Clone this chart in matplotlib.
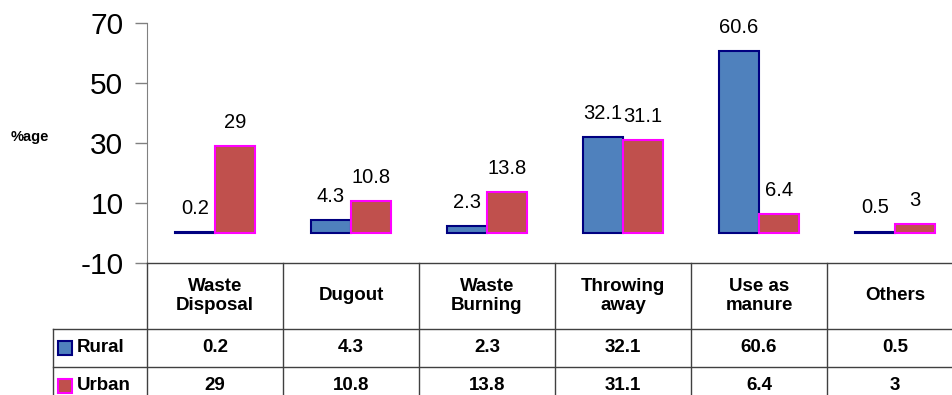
import numpy as np
import matplotlib
matplotlib.use("Agg")
import matplotlib.pyplot as plt
from matplotlib.patches import Rectangle

plt.rcParams['font.family'] = ['Liberation Sans', 'DejaVu Sans']

# data
categories = ['Waste\nDisposal', 'Dugout', 'Waste\nBurning', 'Throwing\naway', 'Use as\nmanure', 'Others']
rural = [0.2, 4.3, 2.3, 32.1, 60.6, 0.5]
urban = [29, 10.8, 13.8, 31.1, 6.4, 3]
rural_txt = ['0.2', '4.3', '2.3', '32.1', '60.6', '0.5']
urban_txt = ['29', '10.8', '13.8', '31.1', '6.4', '3']
yticks = [-10, 10, 30, 50, 70]

RURAL_FC, RURAL_EC = '#4F81BD', '#000080'
URBAN_FC, URBAN_EC = '#C0504D', '#FF00FF'
GRID = '#404040'

W, H = 953, 395
fig = plt.figure(figsize=(W / 100, H / 100), dpi=100)

# main chart: y axis at x=147 px, one category = 136 px
left, col_w = 147, 136
top, bot = 23, 263
ax = fig.add_axes([left / W, 1 - bot / H, col_w * 6 / W, (bot - top) / H])
x = np.arange(len(categories))
bw = 40 / col_w
ax.bar(x - bw / 2, rural, bw, color=RURAL_FC, edgecolor=RURAL_EC, linewidth=1.5)
ax.bar(x + bw / 2, urban, bw, color=URBAN_FC, edgecolor=URBAN_EC, linewidth=1.5)

for i in range(len(categories)):
    ax.annotate(rural_txt[i], (x[i] - bw / 2, rural[i]), xytext=(0, 13),
                textcoords='offset points', ha='center', va='baseline', fontsize=14.5)
    ax.annotate(urban_txt[i], (x[i] + bw / 2, urban[i]), xytext=(0, 13),
                textcoords='offset points', ha='center', va='baseline', fontsize=14.5)

ax.set_xlim(-0.5, len(categories) - 0.5)
ax.set_ylim(-10, 70)
ax.set_yticks(yticks)
ax.set_yticklabels([str(t) for t in yticks], fontsize=21.5)
ax.tick_params(axis='y', length=9, width=1, color='#808080', pad=8)
ax.set_xticks([])
for s in ['top', 'right', 'bottom']:
    ax.spines[s].set_visible(False)
ax.spines['left'].set_color('#808080')
fig.text(30 / W, 1 - 137 / H, '%age', fontsize=10.5, fontweight='bold', ha='center', va='center')

# data table below the chart
leg_w = (left - 53) / col_w
hdr, row = 66, 38
tab_h = hdr + 2 * row
tab = fig.add_axes([53 / W, 1 - (bot + tab_h) / H, (col_w * 6 + left - 53) / W, tab_h / H])
tab.set_xlim(-0.5 - leg_w, len(categories) - 0.5)
tab.set_ylim(tab_h, 0)
tab.axis('off')

lw = 1.0
tab.plot([-0.5, 5.5], [0, 0], color=GRID, lw=lw, clip_on=False)
for yy in [hdr, hdr + row, tab_h]:
    tab.plot([-0.5 - leg_w, 5.5], [yy, yy], color=GRID, lw=lw, clip_on=False)
tab.plot([-0.5 - leg_w] * 2, [hdr, tab_h], color=GRID, lw=lw, clip_on=False)
for xe in np.arange(-0.5, len(categories), 1.0):
    tab.plot([xe, xe], [0, tab_h], color=GRID, lw=lw, clip_on=False)

for i, c in enumerate(categories):
    tab.text(i, hdr / 2, c, ha='center', va='center', fontsize=13.5,
             fontweight='bold', linespacing=1.2)
    tab.text(i, hdr + row / 2, rural_txt[i], ha='center', va='center',
             fontsize=13.5, fontweight='bold')
    tab.text(i, hdr + row * 1.5, urban_txt[i], ha='center', va='center',
             fontsize=13.5, fontweight='bold')

sq_w = 14 / col_w
x0 = -0.5 - leg_w + 5 / col_w
for k, (name, fc, ec) in enumerate([('Rural', RURAL_FC, RURAL_EC), ('Urban', URBAN_FC, URBAN_EC)]):
    yc = hdr + row * (k + 0.5)
    tab.add_patch(Rectangle((x0, yc - 7), sq_w, 14, facecolor=fc, edgecolor=ec,
                            linewidth=1.5, clip_on=False))
    tab.text(x0 + sq_w + 5 / col_w, yc, name, ha='left', va='center',
             fontsize=13.5, fontweight='bold')

fig.savefig('out.png', dpi=100)
